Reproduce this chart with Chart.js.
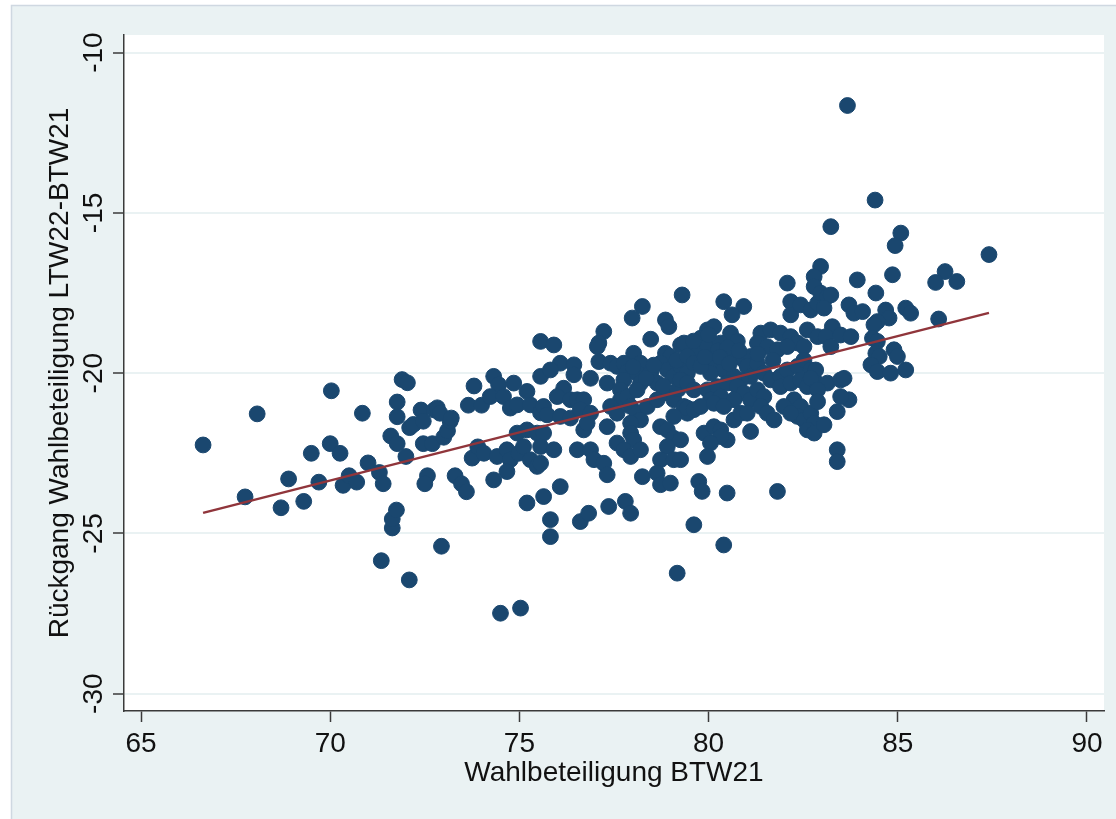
<!DOCTYPE html>
<html>
<head>
<meta charset="utf-8">
<script src="https://cdn.jsdelivr.net/npm/chart.js@4.4.1/dist/chart.umd.min.js"></script>
<style>
  html, body { margin: 0; padding: 0; background: #fff; }
  #wrap { position: relative; width: 1116px; height: 819px; }
  canvas { display: block; }
</style>
</head>
<body>
<div id="wrap"><canvas id="scatter" width="1116" height="819"></canvas></div>
<script>
// Wahlbeteiligung BTW21 (x) vs. Rückgang LTW22-BTW21 (y)
const turnoutBTW21 = [
    // 66-74
    66.64, 67.75, 68.07, 68.7, 68.9, 69.3, 69.5, 69.7, 70.03, 70.0,
    70.26, 70.34, 70.5, 70.7, 70.85, 71.0, 71.3, 71.35, 71.4, 71.6,
    71.64, 71.64, 71.75, 71.77, 71.77, 71.77, 71.9, 72.04, 72.0, 72.09,
    72.1, 72.2, 72.4, 72.46, 72.46, 72.57, 72.5, 72.7, 72.75, 72.83,
    72.9, 72.94, 73.0, 73.1, 73.17, 73.2, 73.3, 73.47, 73.6, 73.65,
    73.75, 73.8, 73.9, 74.0,
    // 74-76
    74.32, 74.45, 74.85, 75.2, 74.23, 74.58, 74.76, 74.94, 75.29, 75.56,
    74.06, 74.41, 74.67, 74.76, 74.98, 75.11, 74.94, 75.2, 75.47, 75.29,
    75.47, 74.67, 74.32, 75.56, 75.56, 75.2, 75.64, 75.82, 75.82, 74.5,
    75.03,
    // 75.5-79.5
    78.25, 77.98, 78.86, 78.95, 77.23, 77.1, 77.06, 78.47, 79.26, 75.91,
    78.02, 78.86, 78.99, 76.08, 75.82, 76.44, 76.44, 77.1, 77.41, 77.58,
    76.88, 77.32, 77.76, 77.85, 77.76, 78.2, 78.11, 78.2, 78.47, 78.64,
    78.73, 78.91, 79.08, 79.26, 79.44, 77.67, 77.67, 77.85, 78.11, 76.17,
    76.0, 76.35, 76.53, 76.7, 75.64, 75.73, 76.08, 76.35, 76.61, 76.88,
    77.41, 77.58, 77.94, 78.11, 78.2, 78.38, 78.64, 78.82, 79.08, 79.35,
    79.44, 79.08, 76.7, 76.79, 77.32, 77.94, 77.94, 78.02, 78.73, 78.91,
    79.08, 78.91, 75.64, 75.56, 75.91, 75.56, 76.53, 76.88, 76.97, 77.23,
    77.32, 77.58, 77.76, 77.94, 78.2, 78.73, 79.08, 78.64, 78.73, 78.99,
    78.25, 76.08, 76.61, 76.83, 77.36, 77.8, 77.94, 79.17,
    78.0, 78.35, 78.55, 79.15, 78.8, 79.2,
    // 79-83
    82.08, 80.4, 80.93, 80.62, 82.17, 82.17, 82.43, 82.7, 82.88, 79.3,
    82.61, 82.88, 79.97, 80.14, 80.58, 80.76, 79.79, 79.7, 79.97, 80.32,
    79.35, 79.44, 79.61, 80.67, 80.93, 81.11, 81.38, 81.64, 81.9, 82.17,
    82.35, 82.52, 81.29, 81.55, 81.82, 82.08, 80.14, 80.4, 80.05, 79.79,
    81.02, 81.11, 80.85, 80.67, 81.29, 81.46, 81.64, 81.9, 82.08, 82.35,
    82.52, 82.7, 81.9, 82.17, 82.43, 82.61, 82.79, 79.26, 79.44, 79.61,
    79.97, 80.23, 80.49, 80.05, 80.32, 80.76, 80.93, 81.11, 80.67, 81.29,
    81.46, 81.38, 81.55, 81.73, 82.26, 82.43, 82.35, 82.52, 82.7, 82.79,
    82.61, 82.79, 81.99, 82.17, 79.44, 79.61, 79.79, 80.14, 80.4, 80.67,
    80.85, 81.02, 79.88, 80.14, 80.32, 80.49, 80.32, 80.05, 79.97, 81.11,
    79.26, 79.26, 79.74, 79.83, 80.49, 81.82, 79.61, 80.4,
    80.0, 80.25, 80.5, 80.3, 79.9, 80.8, 79.6, 80.55, 81.3, 81.7,
    // 82.7-85.5
    82.96, 82.79, 82.79, 82.96, 83.14, 83.23, 83.05, 83.93, 84.86, 84.42,
    83.71, 83.84, 84.07, 84.68, 84.77, 84.46, 84.37, 85.21, 85.34, 83.27,
    83.1, 83.23, 83.49, 83.76, 84.33, 84.46, 84.42, 84.51, 84.9, 84.99,
    84.29, 84.46, 84.81, 85.21, 82.83, 82.7, 83.14, 83.49, 83.58, 83.71,
    83.49, 83.4, 82.88, 82.88, 83.05, 83.4, 83.4,
    // outliers top right
    83.67, 83.23, 84.4, 85.08, 84.93, 87.41, 86.25, 86.0, 86.56, 86.08,
];
const declineLTW22 = [
    -22.24, -23.86, -21.27, -24.2, -23.3, -24.0, -22.5, -23.4, -20.55, -22.2,
    -22.5, -23.5, -23.2, -23.4, -21.25, -22.8, -23.1, -25.85, -23.45, -21.96,
    -24.83, -24.55, -24.27, -22.2, -20.9, -21.36, -20.2, -20.3, -22.6, -26.45,
    -21.7, -21.6, -21.15, -22.2, -21.5, -23.2, -23.45, -22.2, -21.15, -21.08,
    -21.25, -25.4, -22.0, -21.8, -21.5, -21.4, -23.2, -23.45, -23.7, -21.0,
    -22.65, -20.4, -22.3, -21.0,

    -20.1, -20.36, -20.31, -20.57, -20.73, -20.73, -21.09, -20.99, -20.99, -21.24,
    -22.5, -22.6, -22.39, -22.7, -22.5, -22.29, -21.87, -21.77, -21.87, -22.7,
    -22.91, -23.07, -23.33, -19.01, -20.1, -24.05, -23.85, -24.57, -25.1, -27.49,
    -27.33,

    -17.92, -18.28, -18.34, -18.55, -18.7, -19.06, -19.17, -18.94, -19.12, -19.12,
    -19.38, -19.38, -19.48, -19.69, -19.9, -19.74, -20.05, -19.64, -19.69, -19.79,
    -20.16, -20.31, -19.69, -19.95, -20.21, -19.69, -20.0, -20.31, -20.0, -20.31,
    -19.69, -19.9, -20.1, -19.79, -20.0, -20.52, -20.83, -20.73, -20.52, -20.47,
    -20.73, -20.83, -20.83, -20.83, -21.04, -21.3, -21.35, -21.4, -21.14, -21.25,
    -21.04, -21.25, -21.04, -21.25, -21.46, -21.04, -20.83, -20.62, -20.83, -21.04,
    -21.25, -21.35, -21.77, -21.56, -21.67, -21.56, -21.87, -22.08, -21.67, -21.77,
    -22.03, -22.29, -21.87, -22.29, -22.39, -22.81, -22.39, -22.39, -22.7, -22.81,
    -23.17, -22.18, -22.39, -22.6, -22.39, -22.7, -22.7, -23.12, -23.48, -23.43,
    -23.23, -23.54, -24.63, -24.37, -24.16, -24.0, -24.37, -26.24,
    -19.8, -20.15, -19.75, -19.6, -20.4, -20.5,

    -17.19, -17.77, -17.92, -18.18, -17.77, -18.18, -17.87, -18.03, -17.82, -17.56,
    -18.65, -18.86, -18.65, -18.55, -18.75, -19.01, -18.91, -19.27, -19.17, -19.06,
    -19.06, -19.48, -19.69, -19.48, -19.59, -19.48, -18.75, -18.65, -18.75, -18.86,
    -19.06, -19.17, -19.06, -19.17, -19.27, -19.17, -19.69, -19.9, -20.0, -19.79,
    -19.79, -20.1, -20.21, -20.1, -19.69, -20.0, -20.21, -20.1, -19.9, -19.79,
    -19.59, -19.9, -20.42, -20.31, -20.21, -20.42, -20.21, -20.21, -20.31, -20.52,
    -20.52, -20.42, -20.31, -20.83, -20.73, -20.42, -20.62, -20.83, -20.83, -20.52,
    -20.73, -21.04, -21.25, -21.46, -20.83, -21.04, -21.35, -21.46, -21.25, -21.56,
    -21.77, -21.87, -21.04, -21.25, -21.09, -21.14, -21.04, -20.94, -21.04, -21.46,
    -21.25, -21.25, -21.87, -21.67, -21.77, -22.08, -21.98, -22.18, -22.6, -21.82,
    -22.08, -22.7, -23.38, -23.69, -23.74, -23.69, -24.73, -25.36,
    -18.8, -19.3, -19.2, -19.5, -19.5, -19.3, -19.0, -19.7, -19.4, -19.6,

    -16.67, -16.99, -17.3, -17.5, -17.61, -17.56, -17.97, -17.09, -16.93, -17.5,
    -17.87, -18.13, -18.08, -18.03, -18.28, -18.39, -18.49, -17.97, -18.13, -18.55,
    -18.86, -19.17, -18.81, -18.86, -18.91, -19.01, -19.38, -19.48, -19.27, -19.48,
    -19.74, -19.95, -20.0, -19.9, -19.9, -20.16, -20.31, -20.21, -20.16, -20.83,
    -20.73, -21.2, -20.52, -20.89, -21.61, -22.39, -22.76,

    -11.65, -15.43, -14.6, -15.63, -16.02, -16.3, -16.83, -17.17, -17.14, -18.31,
];

// linear fit, endpoints
const fitX = [66.64, 87.41];
const fitY = [-24.36, -18.12];

const xTicks = [65, 70, 75, 80, 85, 90];
const yTicks = [-30, -25, -20, -15, -10];

const FONT = "'Liberation Sans', Arial, Helvetica, sans-serif";
const AXIS = '#3a3a3a';
const FRAME_BG = '#eaf2f3';

const framePlugin = {
    id: 'stataFrame',
    beforeDraw(chart) {
        const { ctx, chartArea, width, height } = chart;
        ctx.save();
        ctx.fillStyle = '#ffffff';
        ctx.fillRect(0, 0, width, height);
        ctx.fillStyle = FRAME_BG;
        ctx.fillRect(11, 6, width - 11, height - 6);
        ctx.strokeStyle = '#cfd8e1';
        ctx.lineWidth = 1.5;
        ctx.beginPath();
        ctx.moveTo(11.5, height);
        ctx.lineTo(11.5, 5.5);
        ctx.lineTo(width, 5.5);
        ctx.stroke();
        ctx.fillStyle = '#ffffff';
        ctx.fillRect(chartArea.left, chartArea.top, chartArea.right - chartArea.left, chartArea.bottom - chartArea.top);
        ctx.restore();
    },
};

// y tick labels are vertical in the original, so they are drawn here
const yLabelsPlugin = {
    id: 'verticalYLabels',
    afterDraw(chart) {
        const { ctx } = chart;
        const yScale = chart.scales.y;
        ctx.save();
        ctx.font = `28px ${FONT}`;
        ctx.fillStyle = '#111';
        ctx.textAlign = 'center';
        ctx.textBaseline = 'alphabetic';
        yScale.ticks.forEach((tick) => {
            const py = yScale.getPixelForValue(tick.value);
            ctx.save();
            ctx.translate(101.5, py);
            ctx.rotate(-Math.PI / 2);
            ctx.fillText(String(tick.value), 0, 0);
            ctx.restore();
        });
        ctx.restore();
    },
};

const points = turnoutBTW21.map((x, i) => ({ x, y: declineLTW22[i] }));
const fitLine = fitX.map((x, i) => ({ x, y: fitY[i] }));

new Chart(document.getElementById('scatter'), {
    type: 'scatter',
    data: {
        datasets: [
            {
                label: 'Fit',
                data: fitLine,
                showLine: true,
                borderColor: '#90353b',
                borderWidth: 2.5,
                pointRadius: 0,
                order: 0,
            },
            {
                label: 'Wahlkreise',
                data: points,
                backgroundColor: '#1a476f',
                borderColor: '#1a476f',
                borderWidth: 1,
                pointRadius: 7.9,
                order: 1,
            },
        ],
    },
    options: {
        responsive: false,
        animation: false,
        events: [],
        layout: {
            padding: { left: 0, top: 35, right: 12, bottom: 0 },
        },
        scales: {
            x: {
                type: 'linear',
                min: 64.55,
                max: 90.45,
                afterBuildTicks: (scale) => { scale.ticks = xTicks.map((v) => ({ value: v })); },
                afterFit: (scale) => { scale.height = 108; },
                grid: {
                    drawOnChartArea: false,
                    drawTicks: true,
                    tickLength: 11,
                    tickColor: AXIS,
                    tickWidth: 1.5,
                },
                border: { display: true, color: AXIS, width: 1.5 },
                ticks: {
                    autoSkip: false,
                    maxRotation: 0,
                    padding: 5,
                    color: '#111',
                    font: { family: FONT, size: 28 },
                },
                title: {
                    display: true,
                    text: 'Wahlbeteiligung BTW21',
                    color: '#111',
                    font: { family: FONT, size: 28 },
                    padding: { top: 0, bottom: 29 },
                },
            },
            y: {
                type: 'linear',
                min: -30.54,
                max: -9.45,
                afterBuildTicks: (scale) => { scale.ticks = yTicks.map((v) => ({ value: v })); },
                afterFit: (scale) => { scale.width = 124; },
                grid: {
                    color: FRAME_BG,
                    lineWidth: 2,
                    drawTicks: true,
                    tickLength: 11,
                    tickColor: AXIS,
                    tickWidth: 1.5,
                },
                border: { display: true, color: AXIS, width: 1.5 },
                ticks: { display: false },
                title: {
                    display: true,
                    text: 'Rückgang Wahlbeteiligung LTW22-BTW21',
                    color: '#111',
                    font: { family: FONT, size: 28 },
                    padding: { top: 43, bottom: 0 },
                },
            },
        },
        plugins: {
            legend: { display: false },
            tooltip: { enabled: false },
        },
    },
    plugins: [framePlugin, yLabelsPlugin],
});
</script>
</body>
</html>
